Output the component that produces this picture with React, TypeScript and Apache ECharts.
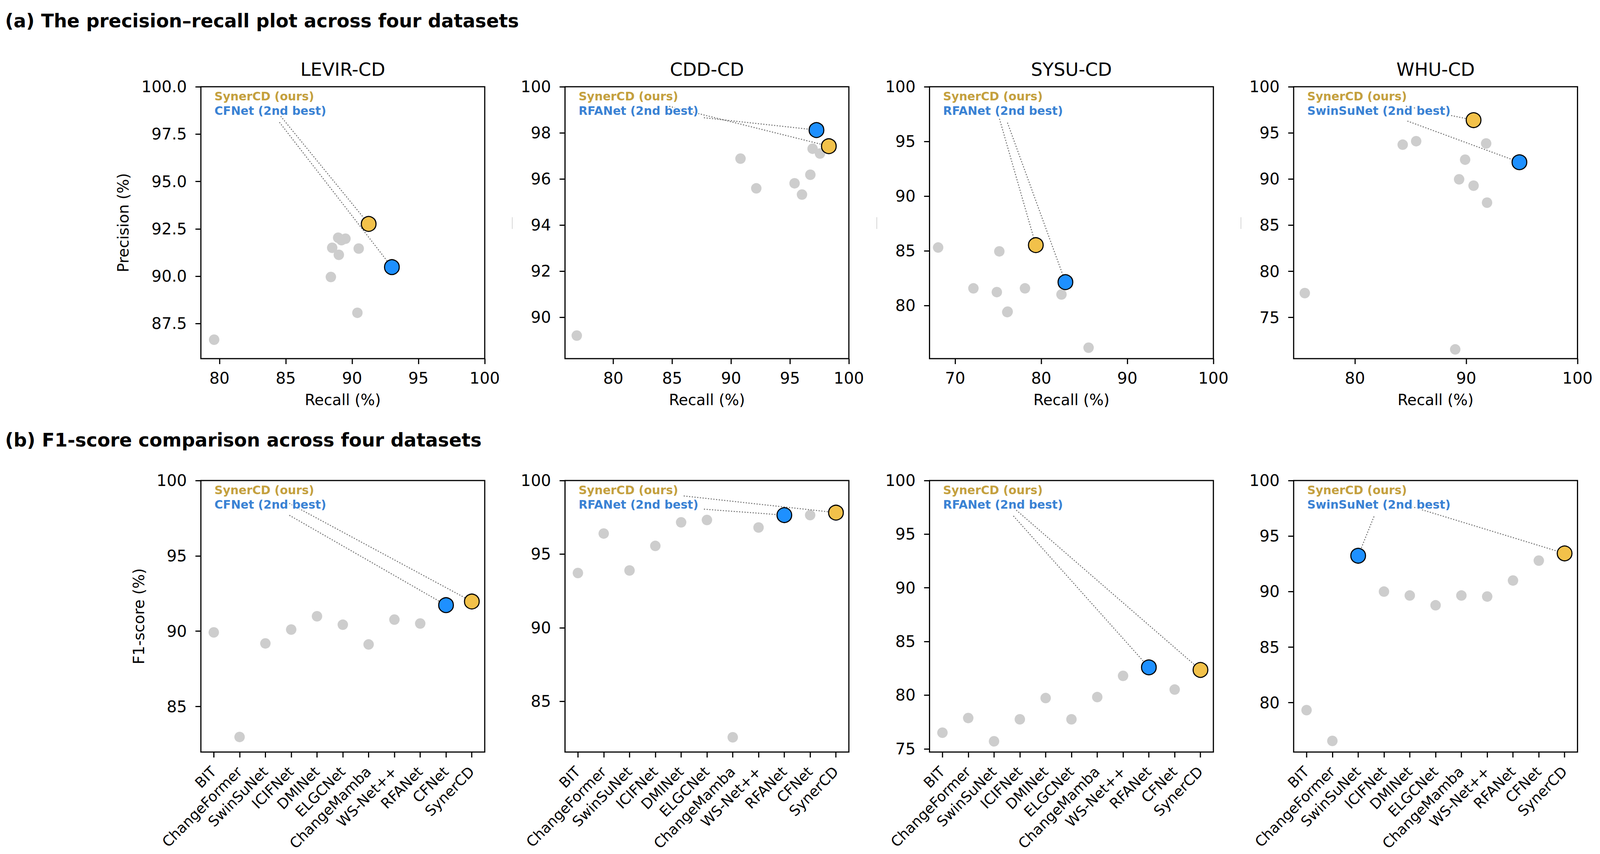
import React, { useEffect, useRef } from "react";
import * as echarts from "echarts";

// ---------------- data ----------------
const METHODS = ["BIT", "ChangeFormer", "SwinSuNet", "ICIFNet", "DMINet", "ELGCNet", "ChangeMamba", "WS-Net++", "RFANet", "CFNet", "SynerCD"];
const DATASETS = ["LEVIR-CD", "CDD-CD", "SYSU-CD", "WHU-CD"];
const OURS = "SynerCD";
const SECOND_BEST = ["CFNet", "RFANet", "RFANet", "SwinSuNet"];

const LEVIR_RECALL = [88.5, 79.6, 90.4, 89.0, 90.5, 88.95, 88.4, 89.5, 89.2, 93.0, 91.25];
const LEVIR_PRECISION = [91.5, 86.65, 88.07, 91.13, 91.46, 92.03, 89.96, 91.98, 91.9, 90.48, 92.76];
const LEVIR_F1 = [89.92, 82.98, 89.19, 90.11, 90.99, 90.43, 89.12, 90.77, 90.51, 91.73, 91.97];

const CDD_RECALL = [90.8, 96.73, 92.14, 95.39, 96.92, 97.55, 76.9, 96.02, 97.25, 98.2, 98.3];
const CDD_PRECISION = [96.88, 96.18, 95.59, 95.81, 97.31, 97.1, 89.2, 95.32, 98.12, 97.35, 97.42];
const CDD_F1 = [93.72, 96.4, 93.89, 95.56, 97.16, 97.32, 82.56, 96.81, 97.65, 97.65, 97.82];

const SYSU_RECALL = [72.12, 74.84, 68.02, 76.05, 75.13, 76.1, 78.11, 82.35, 82.81, 85.5, 79.37];
const SYSU_PRECISION = [81.58, 81.24, 85.31, 79.41, 84.96, 79.45, 81.58, 81.02, 82.15, 76.16, 85.53];
const SYSU_F1 = [76.5, 77.87, 75.7, 77.75, 79.73, 77.75, 79.82, 81.8, 82.59, 80.52, 82.35];

const WHU_RECALL = [89.01, 75.49, 94.78, 90.66, 85.5, 84.29, 89.36, 91.87, 89.9, 91.79, 90.66];
const WHU_PRECISION = [71.54, 77.64, 91.82, 89.28, 94.1, 93.72, 89.97, 87.44, 92.1, 93.85, 96.38];
const WHU_F1 = [79.33, 76.56, 93.23, 90.0, 89.65, 88.77, 89.65, 89.56, 91.0, 92.79, 93.44];

const PR_X_TICKS = [[80, 85, 90, 95, 100], [80, 85, 90, 95, 100], [70, 80, 90, 100], [80, 90, 100]];
const PR_Y_TICKS = [[87.5, 90, 92.5, 95, 97.5, 100], [90, 92, 94, 96, 98, 100], [80, 85, 90, 95, 100], [75, 80, 85, 90, 95, 100]];
const F1_Y_TICKS = [[85, 90, 95, 100], [85, 90, 95, 100], [75, 80, 85, 90, 95, 100], [80, 85, 90, 95, 100]];

const RECALL = [LEVIR_RECALL, CDD_RECALL, SYSU_RECALL, WHU_RECALL];
const PRECISION = [LEVIR_PRECISION, CDD_PRECISION, SYSU_PRECISION, WHU_PRECISION];
const F1 = [LEVIR_F1, CDD_F1, SYSU_F1, WHU_F1];

// ---------------- layout / style ----------------
const W = 4126;
const H = 2186;
const FONT = "DejaVu Sans";
const GRID_LEFTS = [518, 1457, 2397, 3336];
const GRID_W = 732;
const TOP_ROW = { top: 222, h: 696 };
const BOT_ROW = { top: 1230, h: 695 };
const GRAY = "#cdcdcd";
const GOLD = "#F2C14A";
const BLUE = "#1E90FF";
const GOLD_TEXT = "#C4A03E";
const BLUE_TEXT = "#3A82D4";
const ANN_FONT_SIZE = 30;
const ANN_LEFT = 35;
const ANN_Y1 = 24;
const ANN_Y2 = 61;

function buildOption() {
  const grids: any[] = [];
  const xAxes: any[] = [];
  const yAxes: any[] = [];
  const series: any[] = [];
  const tick = { show: true, inside: false, length: 14, lineStyle: { color: "#000", width: 3 } };

  for (let r = 0; r < 2; r++) {
    const row = r === 0 ? TOP_ROW : BOT_ROW;
    for (let d = 0; d < 4; d++) {
      const gi = r * 4 + d;
      grids.push({
        left: GRID_LEFTS[d], top: row.top, width: GRID_W, height: row.h,
        show: true, borderColor: "#000", borderWidth: 3, backgroundColor: "transparent", containLabel: false,
      });
      const sb = SECOND_BEST[d];
      const oi = METHODS.indexOf(OURS);
      const si = METHODS.indexOf(sb);
      if (r === 0) {
        const xmin = Math.min(...RECALL[d]) - 1;
        const ymin = Math.min(...PRECISION[d]) - 1;
        xAxes.push({
          type: "value", gridIndex: gi, min: xmin, max: 100,
          axisLine: { show: false },
          axisTick: { ...tick, customValues: PR_X_TICKS[d] },
          axisLabel: { customValues: PR_X_TICKS[d], fontSize: 41, color: "#000", margin: 29, fontFamily: FONT },
          splitLine: { show: false },
        });
        yAxes.push({
          type: "value", gridIndex: gi, min: ymin, max: 100,
          axisLine: { show: false },
          axisTick: { ...tick, customValues: PR_Y_TICKS[d] },
          axisLabel: {
            customValues: PR_Y_TICKS[d], fontSize: 41, color: "#000", margin: 36, fontFamily: FONT,
            formatter: d === 0 ? (v: number) => v.toFixed(1) : (v: number) => String(v),
          },
          splitLine: { show: false },
        });
        const gray = METHODS.map((m, i) => ({ m, i })).filter((o) => o.m !== OURS && o.m !== sb)
          .map((o) => [RECALL[d][o.i], PRECISION[d][o.i]]);
        series.push({ type: "scatter", xAxisIndex: gi, yAxisIndex: gi, symbol: "circle", symbolSize: 27, z: 2, data: gray, itemStyle: { color: GRAY, opacity: 1 }, silent: true });
        series.push({ type: "scatter", xAxisIndex: gi, yAxisIndex: gi, symbol: "circle", symbolSize: 38, z: 4, data: [[RECALL[d][si], PRECISION[d][si]]], itemStyle: { color: BLUE, borderColor: "#000", borderWidth: 2.8, opacity: 1 }, silent: true });
        series.push({ type: "scatter", xAxisIndex: gi, yAxisIndex: gi, symbol: "circle", symbolSize: 38, z: 4, data: [[RECALL[d][oi], PRECISION[d][oi]]], itemStyle: { color: GOLD, borderColor: "#000", borderWidth: 2.8, opacity: 1 }, silent: true });
      } else {
        const ymin = Math.min(...F1[d]) - 1;
        xAxes.push({
          type: "category", gridIndex: gi, data: METHODS, boundaryGap: true,
          axisLine: { show: false },
          axisTick: { ...tick, alignWithLabel: true, interval: 0 },
          axisLabel: { interval: 0, rotate: 45, fontSize: 37, color: "#000", margin: 44, fontFamily: FONT },
          splitLine: { show: false },
        });
        yAxes.push({
          type: "value", gridIndex: gi, min: ymin, max: 100,
          axisLine: { show: false },
          axisTick: { ...tick, customValues: F1_Y_TICKS[d] },
          axisLabel: { customValues: F1_Y_TICKS[d], fontSize: 41, color: "#000", margin: 36, fontFamily: FONT },
          splitLine: { show: false },
        });
        const gray = METHODS.map((m, i) => ({ m, i })).filter((o) => o.m !== OURS && o.m !== sb)
          .map((o) => [o.i, F1[d][o.i]]);
        series.push({ type: "scatter", xAxisIndex: gi, yAxisIndex: gi, symbol: "circle", symbolSize: 27, z: 2, data: gray, itemStyle: { color: GRAY, opacity: 1 }, silent: true });
        series.push({ type: "scatter", xAxisIndex: gi, yAxisIndex: gi, symbol: "circle", symbolSize: 38, z: 4, data: [[si, F1[d][si]]], itemStyle: { color: BLUE, borderColor: "#000", borderWidth: 2.8, opacity: 1 }, silent: true });
        series.push({ type: "scatter", xAxisIndex: gi, yAxisIndex: gi, symbol: "circle", symbolSize: 38, z: 4, data: [[oi, F1[d][oi]]], itemStyle: { color: GOLD, borderColor: "#000", borderWidth: 2.8, opacity: 1 }, silent: true });
      }
    }
  }

  return {
    animation: false,
    backgroundColor: "#fff",
    textStyle: { fontFamily: FONT },
    grid: grids,
    xAxis: xAxes,
    yAxis: yAxes,
    series,
  };
}

function textEl(text: string, x: number, y: number, size: number, opts: any = {}) {
  const align = opts.align || "center";
  return {
    type: "text",
    x, y,
    rotation: opts.rotation || 0,
    z: opts.z || 10,
    silent: true,
    style: {
      text,
      fontSize: size,
      fontWeight: opts.weight || "normal",
      fontFamily: FONT,
      fill: opts.fill || "#000",
      align, textAlign: align,
      verticalAlign: "middle", textVerticalAlign: "middle",
      stroke: opts.stroke,
      lineWidth: opts.lineWidth,
    },
  };
}

function clipStart(cx: number, cy: number, halfW: number, halfH: number, tx: number, ty: number, extra: number) {
  const dx = tx - cx, dy = ty - cy;
  const len = Math.hypot(dx, dy) || 1;
  const ux = dx / len, uy = dy / len;
  let t = Infinity;
  if (Math.abs(ux) > 1e-9) t = Math.min(t, halfW / Math.abs(ux));
  if (Math.abs(uy) > 1e-9) t = Math.min(t, halfH / Math.abs(uy));
  t += extra;
  return [cx + ux * t, cy + uy * t];
}

function buildGraphics(chart: any) {
  const els: any[] = [];
  const ctx = document.createElement("canvas").getContext("2d")!;
  ctx.font = `bold ${ANN_FONT_SIZE}px "${FONT}"`;

  els.push(textEl("(a) The precision\u2013recall plot across four datasets", 13, 53, 48, { align: "left", weight: "bold" }));
  els.push(textEl("(b) F1-score comparison across four datasets", 13, 1126, 48, { align: "left", weight: "bold" }));

  for (let d = 0; d < 4; d++) {
    const cx = GRID_LEFTS[d] + GRID_W / 2;
    els.push(textEl(DATASETS[d], cx, 178, 47));
    els.push(textEl("Recall (%)", cx, 1023, 39));
    if (d > 0) {
      els.push({ type: "line", silent: true, z: 1, shape: { x1: GRID_LEFTS[d] - 136, y1: 556, x2: GRID_LEFTS[d] - 136, y2: 586 }, style: { stroke: "#c8c8c8", lineWidth: 1.5 } });
    }
  }
  els.push(textEl("Precision (%)", 318, TOP_ROW.top + TOP_ROW.h / 2, 39, { rotation: Math.PI / 2 }));
  els.push(textEl("F1-score (%)", 358, BOT_ROW.top + BOT_ROW.h / 2, 39, { rotation: Math.PI / 2 }));

  const oi = METHODS.indexOf(OURS);
  const halfH = ANN_FONT_SIZE * 0.58;
  for (let r = 0; r < 2; r++) {
    const row = r === 0 ? TOP_ROW : BOT_ROW;
    for (let d = 0; d < 4; d++) {
      const gi = r * 4 + d;
      const sb = SECOND_BEST[d];
      const si = METHODS.indexOf(sb);
      const left = GRID_LEFTS[d] + ANN_LEFT;
      const labels = [
        { text: `${OURS} (ours)`, y: row.top + ANN_Y1, color: GOLD_TEXT, target: r === 0 ? [RECALL[d][oi], PRECISION[d][oi]] : [oi, F1[d][oi]] },
        { text: `${sb} (2nd best)`, y: row.top + ANN_Y2, color: BLUE_TEXT, target: r === 0 ? [RECALL[d][si], PRECISION[d][si]] : [si, F1[d][si]] },
      ];
      for (const lb of labels) {
        const w = ctx.measureText(lb.text).width;
        const tcx = left + w / 2;
        const p = chart.convertToPixel({ gridIndex: gi }, lb.target);
        if (p) {
          const s = clipStart(tcx, lb.y, w / 2 + 7, halfH + 7, p[0], p[1], 7);
          els.push({
            type: "line", silent: true, z: 3,
            shape: { x1: s[0], y1: s[1], x2: p[0], y2: p[1] },
            style: { stroke: "#707070", lineWidth: 2.5, lineDash: [3, 4] },
          });
        }
        els.push(textEl(lb.text, left, lb.y, ANN_FONT_SIZE, { align: "left", weight: "bold", fill: lb.color, stroke: "#fff", lineWidth: 5, z: 6 }));
      }
    }
  }
  return els;
}

export default function App() {
  const ref = useRef<HTMLDivElement>(null);
  const vw = typeof window !== "undefined" ? window.innerWidth : W;
  const vh = typeof window !== "undefined" ? window.innerHeight : H;
  const sx = Math.min(1, vw / W);
  const sy = Math.min(1, vh / H);
  useEffect(() => {
    document.documentElement.style.overflow = "hidden";
    document.body.style.margin = "0";
    document.body.style.overflow = "hidden";
    const chart = echarts.init(ref.current!, null, { renderer: "svg", width: W, height: H });
    chart.setOption(buildOption());
    chart.setOption({ graphic: { elements: buildGraphics(chart) } });
    return () => chart.dispose();
  }, []);
  return (
    <div
      ref={ref}
      style={{
        position: "absolute", left: 0, top: 0, width: W, height: H, background: "#fff",
        transform: `scale(${sx}, ${sy})`, transformOrigin: "0 0",
      }}
    />
  );
}
